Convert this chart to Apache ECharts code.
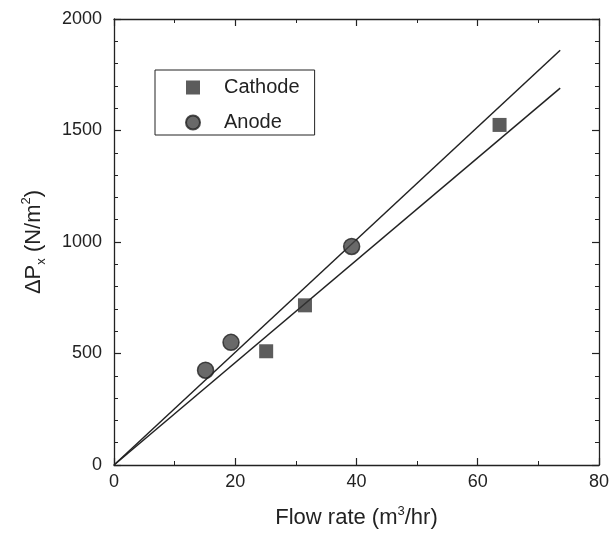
<!DOCTYPE html>
<html>
<head>
<meta charset="utf-8">
<script src="https://cdn.jsdelivr.net/npm/echarts@6/dist/echarts.min.js"></script>
<style>
  html, body { margin: 0; padding: 0; background: #fff; }
  #chart { width: 612px; height: 541px; }
</style>
</head>
<body>
<div id="chart"></div>
<script>
// measured points
const cathodeFlow = [25.1, 31.5, 63.6]
const cathodeDp = [510, 716, 1525]
const anodeFlow = [15.1, 19.3, 39.2]
const anodeDp = [425, 550, 980]

// linear fits through origin (end points)
const fitFlow = [0, 73.6]
const cathodeFit = [0, 1690]
const anodeFit = [0, 1860]

const xTicks = [0, 20, 40, 60, 80]
const yTicks = [0, 500, 1000, 1500, 2000]

const ink = '#222'
const font = 'Liberation Sans'

const pairs = (xs, ys) => xs.map((x, i) => [x, ys[i]])

const chartDom = document.getElementById('chart')
const myChart = echarts.init(chartDom)

const baseAxis = {
  type: 'value',
  axisLine: {show: true, onZero: false, lineStyle: {color: ink, width: 1.3}},
  axisTick: {show: true, inside: true, length: 7, lineStyle: {color: ink, width: 1.2}},
  minorTick: {show: true, length: 4, lineStyle: {color: ink, width: 1}},
  splitLine: {show: false},
  minorSplitLine: {show: false}
}

const option = {
  backgroundColor: '#fff',
  animation: false,
  grid: {left: 114, right: 10, top: 19, bottom: 76},
  legend: {
    left: 155,
    top: 70,
    orient: 'vertical',
    data: ['Cathode', 'Anode'],
    borderColor: ink,
    borderWidth: 1,
    padding: [7, 15, 2, 30],
    itemWidth: 14,
    itemHeight: 14,
    itemGap: 14,
    textStyle: {fontFamily: font, fontSize: 20, color: ink, lineHeight: 21, padding: [0, 0, 0, 19]}
  },
  xAxis: [
    Object.assign({}, baseAxis, {
      min: xTicks[0], max: xTicks[xTicks.length - 1], interval: 20,
      minorTick: Object.assign({}, baseAxis.minorTick, {splitNumber: 2}),
      axisLabel: {margin: 8, fontFamily: font, fontSize: 18, color: ink},
      name: '{t|Flow rate (m}{s|3}{t|/hr)}',
      nameLocation: 'middle',
      nameGap: 40,
      nameTextStyle: {
        rich: {
          t: {fontFamily: font, fontSize: 22, color: ink, lineHeight: 26},
          s: {fontFamily: font, fontSize: 13, color: ink, lineHeight: 26, verticalAlign: 'top'}
        }
      }
    }),
    Object.assign({}, baseAxis, {
      position: 'top',
      min: xTicks[0], max: xTicks[xTicks.length - 1], interval: 20,
      minorTick: Object.assign({}, baseAxis.minorTick, {splitNumber: 2}),
      axisLabel: {show: false}
    })
  ],
  yAxis: [
    Object.assign({}, baseAxis, {
      min: yTicks[0], max: yTicks[yTicks.length - 1], interval: 500,
      minorTick: Object.assign({}, baseAxis.minorTick, {splitNumber: 5}),
      axisLabel: {margin: 12, fontFamily: font, fontSize: 18, color: ink, formatter: v => String(v)},
      name: '{t|ΔP}{b|x}{t| (N/m}{s|2}{t|)}',
      nameLocation: 'middle',
      nameGap: 66,
      nameTextStyle: {
        rich: {
          t: {fontFamily: font, fontSize: 22, color: ink, lineHeight: 28},
          b: {fontFamily: font, fontSize: 13, color: ink, lineHeight: 28, verticalAlign: 'bottom'},
          s: {fontFamily: font, fontSize: 13, color: ink, lineHeight: 28, verticalAlign: 'top'}
        }
      }
    }),
    Object.assign({}, baseAxis, {
      position: 'right',
      min: yTicks[0], max: yTicks[yTicks.length - 1], interval: 500,
      minorTick: Object.assign({}, baseAxis.minorTick, {splitNumber: 5}),
      axisLabel: {show: false}
    })
  ],
  series: [
    {
      name: 'Cathode fit',
      type: 'line',
      data: pairs(fitFlow, cathodeFit),
      symbol: 'none',
      lineStyle: {color: ink, width: 1.5},
      z: 2
    },
    {
      name: 'Anode fit',
      type: 'line',
      data: pairs(fitFlow, anodeFit),
      symbol: 'none',
      lineStyle: {color: ink, width: 1.5},
      z: 2
    },
    {
      name: 'Cathode',
      type: 'scatter',
      data: pairs(cathodeFlow, cathodeDp),
      symbol: 'rect',
      symbolSize: 14,
      itemStyle: {color: '#333'},
      z: 3
    },
    {
      name: 'Anode',
      type: 'scatter',
      data: pairs(anodeFlow, anodeDp),
      symbol: 'circle',
      symbolSize: 16,
      itemStyle: {color: '#444', borderColor: '#222', borderWidth: 1.5},
      z: 3
    }
  ]
}

option && myChart.setOption(option)
</script>
</body>
</html>
